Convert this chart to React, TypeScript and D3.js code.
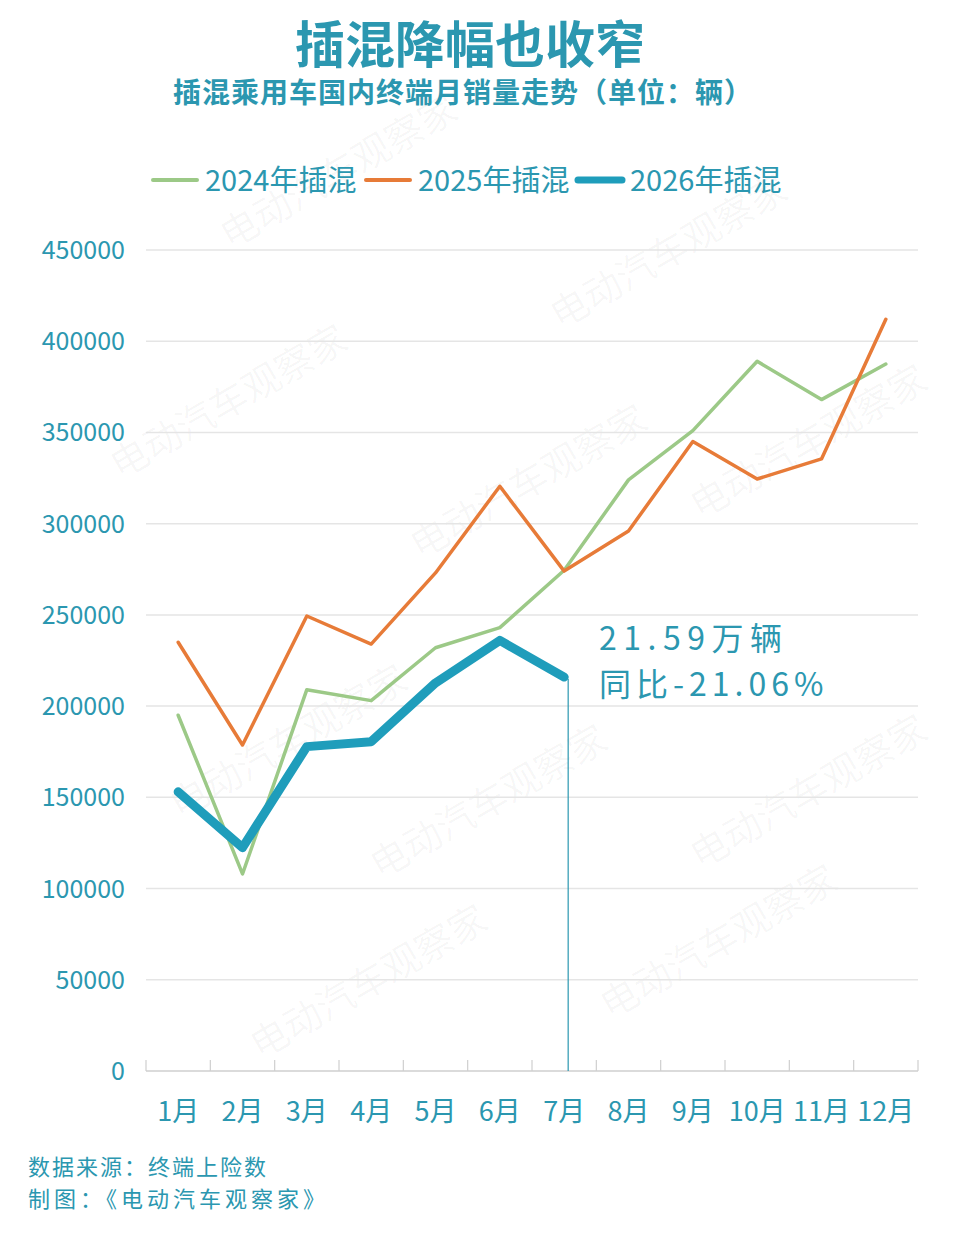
import React from 'react';
import * as d3 from 'd3';

const months = ['1月', '2月', '3月', '4月', '5月', '6月', '7月', '8月', '9月', '10月', '11月', '12月'];
const sales2024 = [195000, 108000, 209000, 203000, 232000, 243000, 274500, 324000, 351000, 389000, 368000, 387500];
const sales2025 = [235000, 178700, 249400, 234000, 273000, 320500, 274000, 296000, 345000, 324500, 335500, 412000];
const sales2026 = [153000, 122400, 177800, 180500, 212700, 236000, 215900];
const yTicks = [0, 50000, 100000, 150000, 200000, 250000, 300000, 350000, 400000, 450000];

const W = 960;
const H = 1235;
const TEAL = '#2b97b0';
const FONT = '"Noto Sans CJK SC", "Noto Sans", sans-serif';

const x = d3.scaleBand<string>().domain(months).range([146, 918]);
const y = d3.scaleLinear().domain([0, 450000]).range([1071, 250]);
const cx = (i: number) => (x(months[i]) ?? 0) + x.bandwidth() / 2;

const line = d3
  .line<number>()
  .x((_, i) => cx(i))
  .y((d) => y(d));

const series = [
  { name: '2024年插混', data: sales2024, color: '#9cc987', width: 3.5 },
  { name: '2025年插混', data: sales2025, color: '#e77b38', width: 3.5 },
  { name: '2026年插混', data: sales2026, color: '#1f9dbb', width: 9 },
];

// faint diagonal watermark, kept inside the page and away from the labels
const marks: [number, number][] = [
  [230, 250],
  [560, 330],
  [120, 480],
  [420, 560],
  [700, 520],
  [180, 820],
  [380, 880],
  [700, 870],
  [260, 1060],
  [610, 1020],
];

export default function App() {
  const last = sales2026.length - 1;
  return (
    <svg
      width={W}
      height={H}
      style={{ position: 'absolute', left: 0, top: 0, background: '#fff', fontFamily: FONT }}
    >
      <rect width={W} height={H} fill="#fff" />

      {marks.map(([mx, my], i) => (
        <text
          key={i}
          x={mx}
          y={my}
          fontSize={38}
          fill="#000"
          fillOpacity={0.035}
          transform={`rotate(-30 ${mx} ${my})`}
        >
          电动汽车观察家
        </text>
      ))}

      <text x={470} y={63} textAnchor="middle" fontSize={50} fontWeight={700} fill={TEAL}>
        插混降幅也收窄
      </text>
      <text x={463} y={103} textAnchor="middle" fontSize={28} fontWeight={700} fill={TEAL} letterSpacing={1}>
        插混乘用车国内终端月销量走势（单位：辆）
      </text>

      {series.map((s, i) => {
        const lx = [153, 366, 578][i];
        return (
          <g key={s.name}>
            <line
              x1={lx}
              x2={lx + 44}
              y1={180}
              y2={180}
              stroke={s.color}
              strokeWidth={i === 2 ? 7 : 4}
              strokeLinecap="round"
            />
            <text x={lx + 52} y={191} fontSize={29} fill={TEAL}>
              {s.name}
            </text>
          </g>
        );
      })}

      {yTicks.map((t) => (
        <g key={t}>
          {t > 0 && <line x1={146} x2={918} y1={y(t)} y2={y(t)} stroke="#e5e5e5" strokeWidth={1.5} />}
          <text x={125} y={y(t) + 9} textAnchor="end" fontSize={25} fill={TEAL}>
            {t}
          </text>
        </g>
      ))}

      <line x1={146} x2={918} y1={y(0)} y2={y(0)} stroke="#cfcfcf" strokeWidth={1.5} />
      {months.concat(['']).map((m, i) => {
        const tx = 146 + i * x.step();
        return <line key={i} x1={tx} x2={tx} y1={y(0) - 11} y2={y(0)} stroke="#cfcfcf" strokeWidth={1.2} />;
      })}
      {months.map((m, i) => (
        <text key={m} x={cx(i)} y={1121} textAnchor="middle" fontSize={27} fill={TEAL}>
          {m}
        </text>
      ))}

      {series.map((s) => (
        <path
          key={s.name}
          d={line(s.data) ?? ''}
          fill="none"
          stroke={s.color}
          strokeWidth={s.width}
          strokeLinejoin="round"
          strokeLinecap="round"
        />
      ))}

      <line
        x1={cx(last) + 4}
        x2={cx(last) + 4}
        y1={y(sales2026[last]) + 2}
        y2={y(0)}
        stroke={TEAL}
        strokeWidth={1.2}
      />
      <text x={599} y={650} fontSize={32} fill={TEAL} letterSpacing={6.5}>
        21.59万辆
      </text>
      <text x={599} y={696} fontSize={32} fill={TEAL} letterSpacing={5}>
        同比-21.06%
      </text>

      <text x={28} y={1175} fontSize={22} fill={TEAL} letterSpacing={2}>
        数据来源：终端上险数
      </text>
      <text x={28} y={1207} fontSize={22} fill={TEAL} letterSpacing={4}>
        制图：《电动汽车观察家》
      </text>
    </svg>
  );
}
